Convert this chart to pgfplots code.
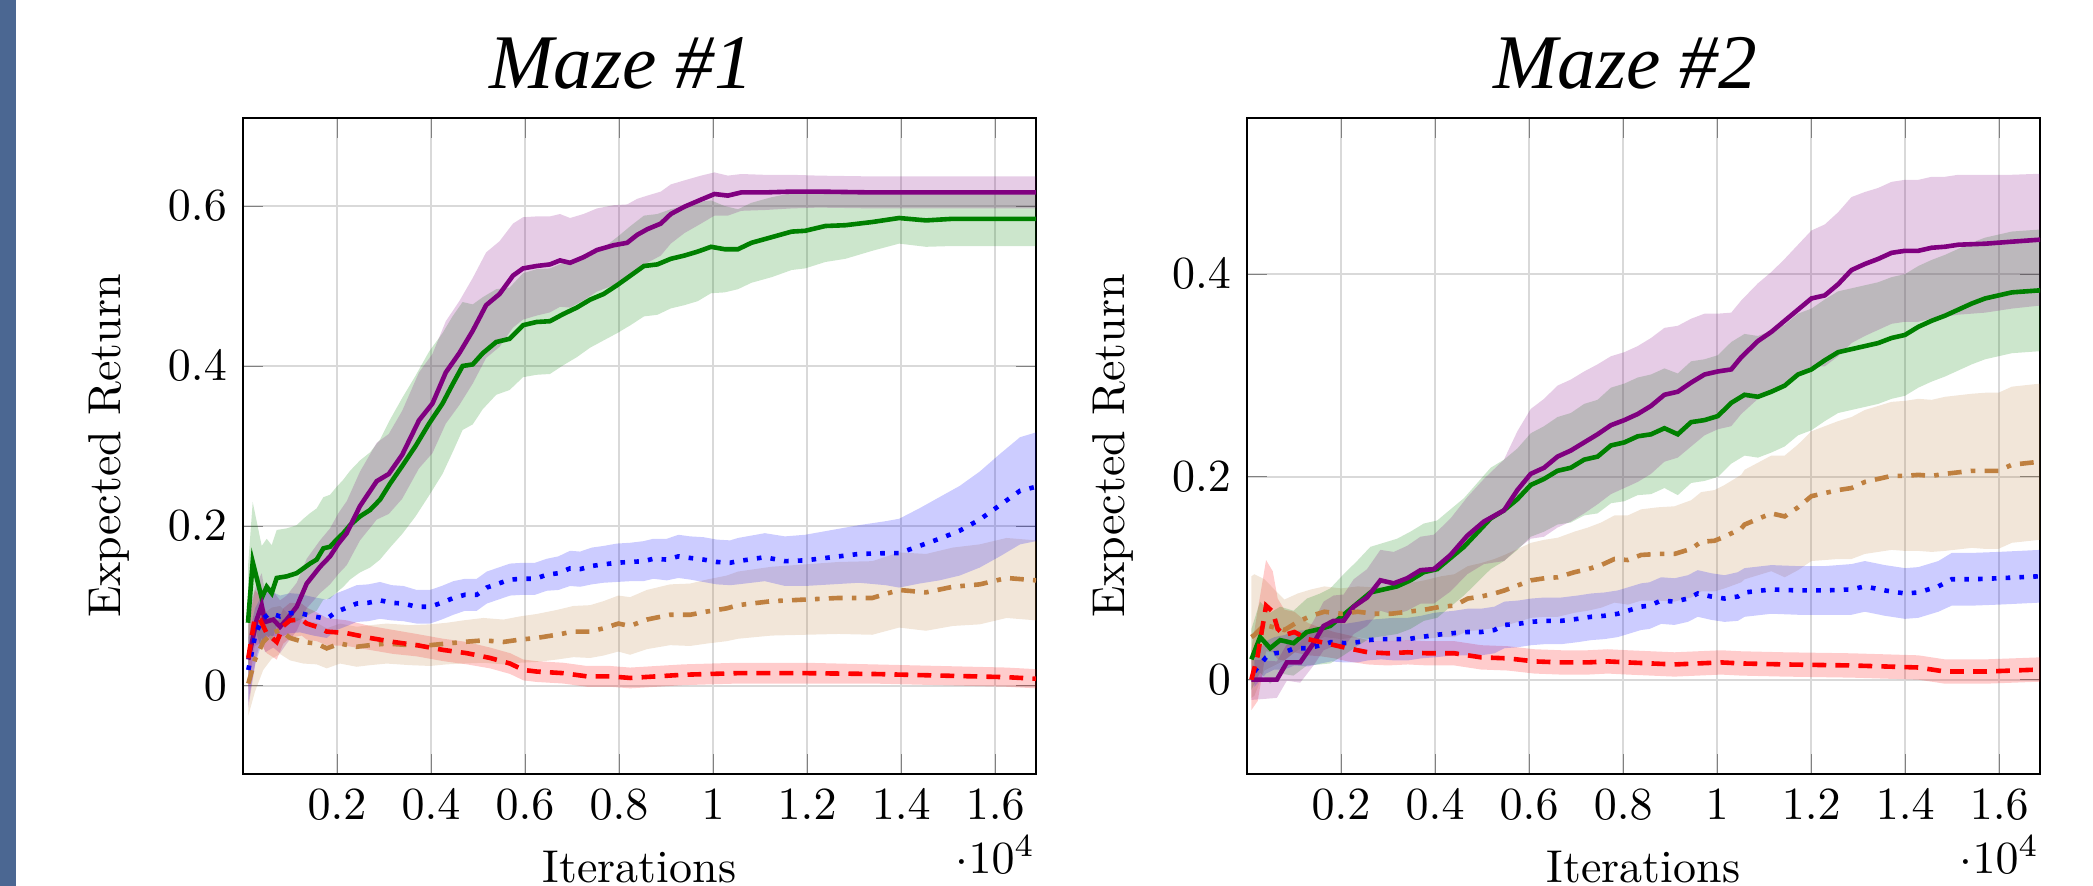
\documentclass[border=0pt]{standalone}
\usepackage{fontspec}
\usepackage{pgfplots}
\usepackage{pgfplotstable}
\pgfplotsset{compat=1.18}
\usepgfplotslibrary{fillbetween}
\newfontfamily\titlefont{Liberation Serif}
\definecolor{barcol}{RGB}{75,103,146}
\definecolor{cpur}{RGB}{128,0,128}
\definecolor{cgrn}{RGB}{0,128,0}
\definecolor{cblu}{RGB}{0,0,255}
\definecolor{cbrn}{RGB}{191,128,64}
\definecolor{cred}{RGB}{255,0,0}

% ---------- Maze #1 ----------
\pgfplotstableread{
x m s
113 0.033 0.06
291 0.083 0.045
397 0.101 0.04
468 0.080 0.038
645 0.083 0.035
787 0.074 0.033
929 0.083 0.03
1142 0.099 0.03
1355 0.128 0.031
1638 0.149 0.033
1851 0.162 0.035
2029 0.178 0.038
2206 0.191 0.04
2489 0.225 0.043
2844 0.256 0.048
3100 0.265 0.05
3386 0.289 0.055
3743 0.332 0.06
4029 0.353 0.062
4314 0.392 0.064
4600 0.416 0.065
4886 0.444 0.066
5171 0.476 0.066
5457 0.490 0.066
5743 0.513 0.065
5957 0.522 0.064
6243 0.525 0.062
6529 0.527 0.06
6743 0.532 0.058
6957 0.529 0.056
7243 0.536 0.054
7529 0.545 0.052
7886 0.551 0.05
8171 0.554 0.048
8386 0.564 0.045
8600 0.571 0.042
8886 0.578 0.04
9100 0.590 0.037
9386 0.599 0.033
9743 0.608 0.03
10029 0.615 0.027
10314 0.613 0.025
10600 0.617 0.023
11100 0.617 0.022
11671 0.618 0.021
12243 0.618 0.02
13386 0.617 0.02
14814 0.617 0.02
16870 0.617 0.02
}\LP
\pgfplotstableread{
x m s
106 0.079 0.07
206 0.155 0.075
398 0.110 0.065
504 0.124 0.06
610 0.116 0.06
717 0.135 0.06
930 0.137 0.06
1142 0.141 0.06
1284 0.147 0.062
1426 0.153 0.063
1567 0.158 0.064
1709 0.172 0.064
1851 0.174 0.065
1993 0.183 0.066
2135 0.191 0.067
2277 0.201 0.068
2489 0.212 0.07
2702 0.220 0.072
2915 0.233 0.075
3128 0.253 0.08
3386 0.275 0.085
3671 0.300 0.088
3957 0.328 0.09
4243 0.353 0.088
4457 0.377 0.085
4671 0.400 0.08
4886 0.402 0.075
5100 0.416 0.07
5386 0.430 0.066
5671 0.434 0.064
5957 0.451 0.065
6243 0.455 0.066
6529 0.456 0.066
6814 0.465 0.064
7100 0.473 0.062
7386 0.483 0.06
7671 0.490 0.058
7957 0.501 0.06
8243 0.513 0.062
8529 0.525 0.063
8814 0.527 0.063
9100 0.534 0.062
9386 0.538 0.062
9671 0.543 0.062
9957 0.549 0.058
10243 0.546 0.054
10529 0.546 0.05
10814 0.554 0.05
11243 0.561 0.05
11671 0.568 0.048
11957 0.569 0.047
12386 0.575 0.045
12814 0.576 0.042
13386 0.580 0.036
13957 0.585 0.032
14529 0.582 0.033
15100 0.584 0.034
16870 0.584 0.034
}\LG
\pgfplotstableread{
x m s
113 0.020 0.04
255 0.062 0.035
397 0.083 0.03
574 0.091 0.028
787 0.087 0.026
1000 0.091 0.025
1213 0.091 0.024
1496 0.087 0.024
1780 0.084 0.024
1993 0.093 0.023
2170 0.097 0.023
2418 0.103 0.023
2666 0.104 0.023
2915 0.107 0.023
3163 0.104 0.022
3411 0.103 0.022
3695 0.099 0.021
3979 0.099 0.021
4227 0.104 0.021
4475 0.110 0.021
4723 0.114 0.02
4972 0.114 0.02
5185 0.123 0.02
5432 0.128 0.02
5681 0.133 0.02
5964 0.134 0.02
6213 0.134 0.02
6462 0.139 0.02
6709 0.141 0.021
6957 0.147 0.022
7170 0.146 0.022
7419 0.150 0.023
7666 0.152 0.023
7951 0.154 0.024
8234 0.155 0.024
8517 0.156 0.025
8730 0.159 0.025
9015 0.158 0.026
9262 0.162 0.027
9511 0.160 0.027
9794 0.158 0.028
10078 0.155 0.028
10362 0.154 0.028
10529 0.156 0.029
11100 0.161 0.03
11529 0.156 0.031
11957 0.157 0.032
12529 0.161 0.034
13100 0.165 0.036
13671 0.166 0.04
13957 0.166 0.043
14386 0.175 0.047
14814 0.184 0.052
15243 0.194 0.056
15671 0.208 0.06
16100 0.226 0.064
16529 0.244 0.067
16870 0.249 0.068
}\LB
\pgfplotstableread{
x m s
113 0.035 0.04
250 0.085 0.035
362 0.083 0.03
504 0.066 0.025
717 0.055 0.022
858 0.075 0.022
1000 0.082 0.022
1248 0.083 0.02
1355 0.078 0.02
1567 0.074 0.018
1780 0.068 0.017
2206 0.066 0.016
2702 0.060 0.015
3199 0.055 0.015
3695 0.051 0.014
4262 0.045 0.014
4759 0.041 0.014
5255 0.035 0.013
5681 0.028 0.013
5964 0.020 0.013
6248 0.018 0.013
6815 0.016 0.013
7312 0.012 0.013
7809 0.012 0.013
8234 0.010 0.013
8801 0.012 0.013
9369 0.014 0.013
9936 0.015 0.013
10529 0.016 0.013
11957 0.016 0.013
13386 0.015 0.012
14814 0.013 0.012
16243 0.011 0.012
16870 0.009 0.012
}\LR
\pgfplotstableread{
x m s
113 0.003 0.04
255 0.033 0.04
430 0.055 0.035
610 0.066 0.032
787 0.070 0.03
1000 0.060 0.028
1284 0.055 0.027
1567 0.053 0.026
1780 0.047 0.025
2064 0.053 0.025
2418 0.049 0.025
2702 0.051 0.025
3057 0.053 0.025
3553 0.051 0.025
3979 0.051 0.026
4333 0.053 0.026
4688 0.055 0.027
5113 0.057 0.028
5539 0.055 0.028
5894 0.058 0.029
6248 0.060 0.03
6674 0.064 0.031
7028 0.068 0.032
7383 0.068 0.033
7666 0.072 0.034
7985 0.078 0.035
8234 0.075 0.036
8589 0.083 0.037
9085 0.089 0.038
9511 0.089 0.039
9866 0.093 0.04
10291 0.097 0.041
10529 0.101 0.042
11243 0.106 0.043
11957 0.108 0.044
12671 0.110 0.045
13386 0.110 0.046
13957 0.120 0.047
14529 0.117 0.048
15100 0.124 0.049
15671 0.127 0.05
16243 0.135 0.05
16870 0.132 0.05
}\LBr

% ---------- Maze #2 ----------
\pgfplotstableread{
x m s
92 0.000 0.02
633 0.000 0.018
846 0.017 0.018
1130 0.017 0.02
1414 0.036 0.022
1628 0.053 0.024
1841 0.058 0.025
2054 0.058 0.026
2268 0.072 0.027
2552 0.081 0.028
2836 0.098 0.03
3120 0.095 0.031
3405 0.100 0.032
3689 0.108 0.033
3973 0.109 0.034
4328 0.123 0.036
4684 0.142 0.038
5039 0.156 0.042
5465 0.167 0.05
5750 0.187 0.058
6034 0.203 0.064
6318 0.209 0.068
6603 0.220 0.07
6887 0.226 0.07
7171 0.234 0.07
7456 0.242 0.069
7740 0.251 0.068
8025 0.256 0.067
8309 0.262 0.067
8593 0.270 0.067
8878 0.281 0.066
9162 0.284 0.065
9446 0.293 0.063
9731 0.301 0.06
10015 0.304 0.057
10299 0.306 0.056
10512 0.318 0.056
10868 0.334 0.057
11152 0.343 0.059
11436 0.354 0.061
11720 0.365 0.064
12005 0.376 0.067
12289 0.379 0.07
12573 0.390 0.071
12857 0.404 0.072
13142 0.410 0.071
13426 0.415 0.07
13710 0.421 0.07
13995 0.423 0.07
14279 0.423 0.07
14563 0.426 0.07
14847 0.427 0.069
15132 0.429 0.069
15700 0.430 0.068
16269 0.432 0.066
16870 0.434 0.065
}\RP
\pgfplotstableread{
x m s
92 0.020 0.03
277 0.042 0.035
490 0.031 0.035
704 0.039 0.033
988 0.036 0.032
1272 0.047 0.033
1556 0.050 0.035
1770 0.053 0.037
2054 0.064 0.04
2339 0.075 0.042
2623 0.086 0.045
2907 0.089 0.046
3191 0.092 0.047
3476 0.098 0.048
3760 0.106 0.048
4044 0.109 0.048
4328 0.120 0.048
4613 0.131 0.048
4897 0.145 0.049
5181 0.159 0.05
5465 0.167 0.05
5750 0.178 0.05
6034 0.192 0.051
6318 0.198 0.052
6603 0.206 0.053
6887 0.209 0.054
7171 0.217 0.055
7456 0.220 0.056
7740 0.231 0.057
8025 0.234 0.058
8309 0.240 0.058
8593 0.242 0.059
8878 0.248 0.059
9162 0.242 0.06
9446 0.254 0.06
9731 0.256 0.06
10015 0.260 0.06
10299 0.273 0.06
10583 0.281 0.06
10868 0.279 0.06
11152 0.284 0.06
11436 0.290 0.06
11720 0.301 0.06
12005 0.306 0.06
12289 0.315 0.06
12573 0.323 0.06
12857 0.326 0.06
13142 0.329 0.06
13426 0.332 0.06
13710 0.337 0.06
13995 0.340 0.06
14279 0.348 0.06
14563 0.354 0.06
14847 0.359 0.06
15132 0.365 0.06
15416 0.371 0.06
15700 0.376 0.06
16269 0.382 0.06
16870 0.384 0.06
}\RG
\pgfplotstableread{
x m s
156 0.008 0.015
404 0.022 0.016
581 0.026 0.016
794 0.027 0.017
1007 0.031 0.017
1291 0.031 0.018
1574 0.034 0.018
1787 0.037 0.019
2071 0.036 0.019
2355 0.037 0.02
2568 0.039 0.02
2851 0.040 0.02
3134 0.040 0.021
3419 0.040 0.021
3702 0.042 0.021
3985 0.044 0.022
4198 0.045 0.022
4411 0.046 0.022
4695 0.047 0.023
4979 0.047 0.023
5262 0.049 0.023
5475 0.054 0.023
5760 0.055 0.023
6043 0.057 0.023
6326 0.058 0.023
6681 0.058 0.023
7036 0.060 0.023
7319 0.062 0.023
7602 0.063 0.023
7887 0.065 0.023
8100 0.068 0.023
8383 0.072 0.023
8560 0.073 0.023
8809 0.078 0.023
9092 0.077 0.023
9376 0.080 0.023
9589 0.085 0.023
9872 0.082 0.023
10156 0.080 0.023
10440 0.082 0.024
10583 0.086 0.024
11152 0.089 0.024
11720 0.088 0.024
12289 0.088 0.024
12857 0.089 0.025
13142 0.092 0.025
13568 0.088 0.025
13995 0.085 0.025
14279 0.086 0.025
14705 0.092 0.025
14989 0.099 0.026
15416 0.099 0.026
15984 0.100 0.026
16870 0.102 0.026
}\RB
\pgfplotstableread{
x m s
92 0.000 0.03
227 0.024 0.045
404 0.073 0.045
546 0.067 0.04
652 0.050 0.03
794 0.044 0.025
1007 0.047 0.02
1291 0.040 0.016
1574 0.037 0.014
1858 0.034 0.013
2142 0.031 0.013
2568 0.027 0.012
2993 0.026 0.012
3419 0.027 0.012
3845 0.026 0.012
4411 0.026 0.012
4979 0.022 0.012
5546 0.021 0.012
6113 0.018 0.012
6681 0.017 0.012
7249 0.017 0.012
7674 0.018 0.012
8100 0.017 0.012
8596 0.016 0.012
9092 0.015 0.012
9589 0.016 0.012
10085 0.017 0.012
10511 0.016 0.012
11436 0.015 0.012
12857 0.014 0.012
14279 0.012 0.012
14847 0.008 0.012
15700 0.008 0.012
16870 0.010 0.012
}\RR
\pgfplotstableread{
x m s
92 0.042 0.06
156 0.044 0.06
368 0.054 0.045
794 0.049 0.03
1078 0.057 0.028
1362 0.063 0.026
1645 0.067 0.025
2000 0.065 0.025
2355 0.067 0.025
2709 0.065 0.026
3064 0.065 0.027
3419 0.067 0.028
3773 0.069 0.029
4128 0.072 0.03
4411 0.073 0.031
4695 0.080 0.032
4979 0.082 0.033
5262 0.085 0.034
5475 0.088 0.035
5760 0.093 0.036
6043 0.098 0.037
6326 0.100 0.038
6611 0.101 0.039
6964 0.106 0.04
7249 0.109 0.041
7532 0.113 0.042
7815 0.119 0.043
8100 0.118 0.044
8383 0.123 0.045
8738 0.124 0.046
9092 0.124 0.047
9447 0.129 0.048
9660 0.136 0.049
9943 0.137 0.05
10156 0.141 0.051
10511 0.149 0.053
10583 0.153 0.054
11152 0.164 0.057
11436 0.161 0.06
11720 0.170 0.062
12005 0.181 0.064
12289 0.184 0.066
12573 0.187 0.068
12857 0.189 0.07
13142 0.195 0.071
13426 0.198 0.072
13710 0.201 0.073
13995 0.201 0.074
14279 0.202 0.075
14563 0.201 0.075
14847 0.203 0.076
15416 0.206 0.076
15700 0.206 0.077
15984 0.206 0.077
16269 0.212 0.077
16870 0.215 0.077
}\RBr

\newcommand{\band}[3]{%
  \addplot[draw=none, forget plot, name path=#3u] table[x=x, y expr=\thisrow{m}+\thisrow{s}] {#1};
  \addplot[draw=none, forget plot, name path=#3l] table[x=x, y expr=\thisrow{m}-\thisrow{s}] {#1};
  \addplot[fill=#2, fill opacity=0.2, draw=none, forget plot] fill between[of=#3u and #3l];
}

\pgfplotsset{
  mazeax/.style={
    scale only axis, width=172.4pt, height=142.6pt,
    anchor=south west,
    xmin=0, xmax=16870,
    xtick={2000,4000,...,16000},
    grid=major, major grid style={black!15, thin},
    tick style={gray},
    xlabel={Iterations}, ylabel={Expected Return},
    ylabel style={at={(ticklabel cs:0.5,1.5pt)}},
    every x tick scale label/.style={at={(xticklabel cs:1)}, anchor=north east, inner sep=0pt},
    title style={at={(0.5,1)}, anchor=base, yshift=0.5pt, xshift=-4pt,
      font=\titlefont\itshape\fontsize{16.8}{20}\selectfont},
    every axis plot/.append style={line width=1pt},
  },
}

\begin{document}
\begin{tikzpicture}
\begin{axis}[mazeax, at={(52.83pt,24.35pt)},
  ymin=-0.11, ymax=0.71, ytick={0,0.2,0.4,0.6},
  title={Maze \#1}]
  \band{\LR}{cred}{lr}
  \band{\LBr}{cbrn}{lbr}
  \band{\LB}{cblu}{lb}
  \band{\LG}{cgrn}{lg}
  \band{\LP}{cpur}{lp}
  \addplot[cgrn] table[x=x, y=m] {\LG};
  \addplot[cpur] table[x=x, y=m] {\LP};
  \addplot[cbrn, dashdotted] table[x=x, y=m] {\LBr};
  \addplot[cblu, dotted] table[x=x, y=m] {\LB};
  \addplot[cred, densely dashed] table[x=x, y=m] {\LR};
\end{axis}

\begin{axis}[mazeax, at={(271.1pt,24.35pt)},
  ymin=-0.093, ymax=0.554, ytick={0,0.2,0.4},
  title={Maze \#2}]
  \band{\RR}{cred}{rr}
  \band{\RBr}{cbrn}{rbr}
  \band{\RB}{cblu}{rb}
  \band{\RG}{cgrn}{rg}
  \band{\RP}{cpur}{rp}
  \addplot[cgrn] table[x=x, y=m] {\RG};
  \addplot[cpur] table[x=x, y=m] {\RP};
  \addplot[cbrn, dashdotted] table[x=x, y=m] {\RBr};
  \addplot[cblu, dotted] table[x=x, y=m] {\RB};
  \addplot[cred, densely dashed] table[x=x, y=m] {\RR};
\end{axis}
\fill[barcol] (0,0) rectangle (3.37pt,192.6pt);
\pgfresetboundingbox
\path[use as bounding box] (0,0) rectangle (455pt,192.6pt);
\end{tikzpicture}
\end{document}
